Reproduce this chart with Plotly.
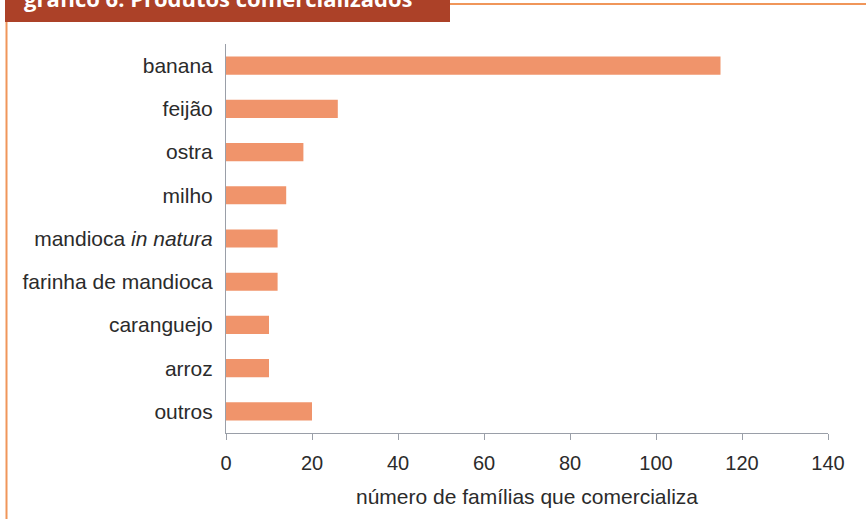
import plotly.graph_objects as go

# Produtos comercializados e número de famílias
produtos = [
    "banana",
    "feijão",
    "ostra",
    "milho",
    "mandioca <i>in natura</i>",
    "farinha de mandioca",
    "caranguejo",
    "arroz",
    "outros",
]
familias = [115, 26, 18, 14, 12, 12, 10, 10, 20]
x_ticks = [0, 20, 40, 60, 80, 100, 120, 140]

titulo = "gráfico 6: Produtos comercializados"
eixo_x = "número de famílias que comercializa"

W, H = 866, 519
M_L, M_R, M_T, M_B = 226, 38, 44, 86
PW = W - M_L - M_R
PH = H - M_T - M_B


def px_x(p):
    return (p - M_L) / PW


def px_y(p):
    return (H - M_B - p) / PH


BAR = "#F0946B"
FRAME = "#F0965A"
BOX = "#AC4128"
TXT = "#2b2b2b"
AXIS = "#9a9fa8"
FONT = "Liberation Sans, Arial, sans-serif"

fig = go.Figure(
    go.Bar(
        x=familias,
        y=produtos,
        orientation="h",
        marker=dict(color=BAR, line=dict(width=0)),
        hoverinfo="skip",
    )
)

fig.update_layout(
    width=W,
    height=H,
    margin=dict(l=M_L, r=M_R, t=M_T, b=M_B, pad=0),
    paper_bgcolor="white",
    plot_bgcolor="white",
    bargap=0.58,
    showlegend=False,
    font=dict(family=FONT, size=21, color=TXT),
    xaxis=dict(
        range=[0, 140],
        tickvals=x_ticks,
        ticktext=[str(v) for v in x_ticks],
        showgrid=False,
        zeroline=False,
        showline=True,
        linecolor=AXIS,
        linewidth=1,
        ticks="outside",
        ticklen=6,
        tickcolor=AXIS,
        ticklabelstandoff=6,
        tickfont=dict(size=20, color=TXT),
        title=dict(text=eixo_x, font=dict(size=21, color=TXT), standoff=16),
        fixedrange=True,
    ),
    yaxis=dict(
        categoryorder="array",
        categoryarray=produtos[::-1],
        showgrid=False,
        zeroline=False,
        showline=True,
        linecolor=AXIS,
        linewidth=1,
        ticks="",
        ticklabelstandoff=8,
        tickfont=dict(size=21, color=TXT),
        fixedrange=True,
    ),
)

# Moldura laranja e caixa do título
fig.add_shape(type="rect", xref="paper", yref="paper",
              x0=px_x(5), x1=px_x(450), y0=px_y(22), y1=px_y(-5),
              fillcolor=BOX, line=dict(width=0), layer="above")
fig.add_shape(type="line", xref="paper", yref="paper",
              x0=px_x(450), x1=px_x(870), y0=px_y(4), y1=px_y(4),
              line=dict(color=FRAME, width=2))
fig.add_shape(type="line", xref="paper", yref="paper",
              x0=px_x(6.5), x1=px_x(6.5), y0=px_y(22), y1=px_y(525),
              line=dict(color=FRAME, width=2))

fig.add_annotation(
    xref="paper", yref="paper",
    x=px_x(22), y=px_y(15),
    xanchor="left", yanchor="bottom",
    text="<b>" + titulo + "</b>",
    showarrow=False,
    font=dict(family="Open Sans, Liberation Sans, sans-serif", size=22, color="white"),
)

fig.write_html("out.html")
